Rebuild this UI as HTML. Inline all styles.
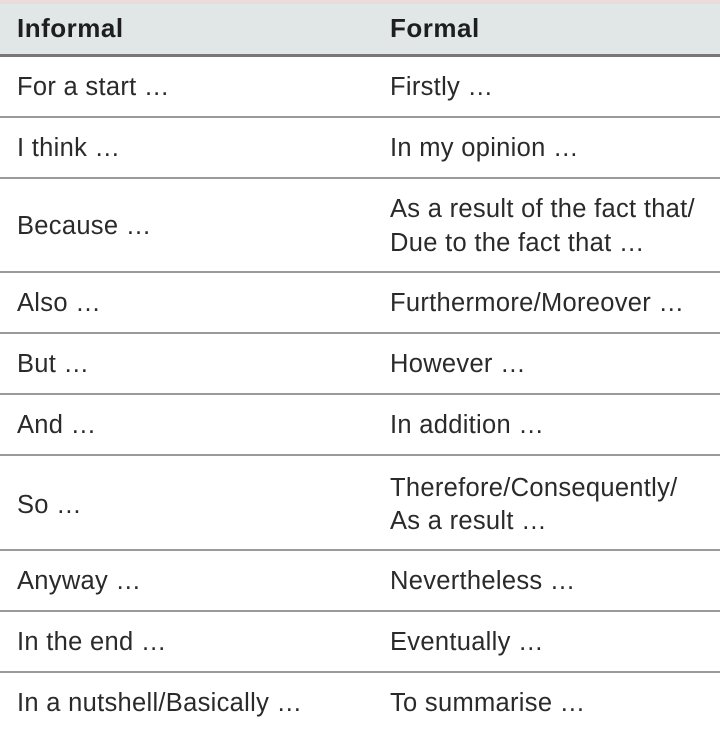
<!DOCTYPE html>
<html><head><style>
body{margin:0;width:720px;height:732px;background:#fff;position:relative;overflow:hidden;font-family:"Liberation Sans",sans-serif;color:#2a2a2a}
.hd{position:absolute;left:0;top:0;width:720px;height:55px;background:#e1e7e7;border-top:4px solid #eadcdc;box-sizing:border-box}
.l{position:absolute;left:0;width:720px;height:2px;background:#9a9a9a}
.t{position:absolute;font-size:25.5px;line-height:34px;white-space:nowrap;transform:translateY(-50%);letter-spacing:0.3px}
.a{left:17px}.b{left:390px}
.h{font-weight:bold;font-size:26px;letter-spacing:0.5px;color:#1e1e1e}
</style></head><body>
<div class="hd"></div>
<div class="l" style="top:54px;height:3px;background:#777"></div>
<div class="l" style="top:116px"></div>
<div class="l" style="top:177px"></div>
<div class="l" style="top:271px"></div>
<div class="l" style="top:332px"></div>
<div class="l" style="top:393px"></div>
<div class="l" style="top:454px"></div>
<div class="l" style="top:549px"></div>
<div class="l" style="top:610px"></div>
<div class="l" style="top:671px"></div>
<div class="t a h" style="top:28px">Informal</div><div class="t b h" style="top:28px">Formal</div>
<div class="t a" style="top:87px">For a start …</div><div class="t b" style="top:87px">Firstly …</div>
<div class="t a" style="top:148px">I think …</div><div class="t b" style="top:148px">In my opinion …</div>
<div class="t a" style="top:226px">Because …</div><div class="t b" style="top:209px">As a result of the fact that/</div><div class="t b" style="top:243px">Due to the fact that …</div>
<div class="t a" style="top:303px">Also …</div><div class="t b" style="top:303px">Furthermore/Moreover …</div>
<div class="t a" style="top:364px">But …</div><div class="t b" style="top:364px">However …</div>
<div class="t a" style="top:425px">And …</div><div class="t b" style="top:425px">In addition …</div>
<div class="t a" style="top:505px">So …</div><div class="t b" style="top:488px">Therefore/Consequently/</div><div class="t b" style="top:521px">As a result …</div>
<div class="t a" style="top:581px">Anyway …</div><div class="t b" style="top:581px">Nevertheless …</div>
<div class="t a" style="top:642px">In the end …</div><div class="t b" style="top:642px">Eventually …</div>
<div class="t a" style="top:703px">In a nutshell/Basically …</div><div class="t b" style="top:703px">To summarise …</div>
</body></html>
